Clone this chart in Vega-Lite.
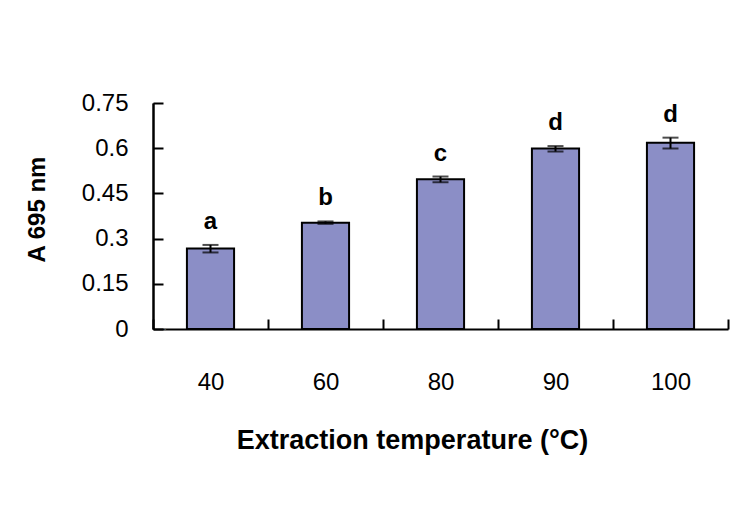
{
  "$schema": "https://vega.github.io/schema/vega-lite/v6.json",
  "width": 575,
  "height": 226,
  "autosize": {"type": "none"},
  "padding": {"left": 153, "top": 103, "right": 18, "bottom": 193},
  "background": "white",
  "config": {"view": {"stroke": null}, "font": "Liberation Sans"},
  "data": {
    "values": [
      {"temp": "40", "mean": 0.267, "lo": 0.254, "hi": 0.279, "group": "a"},
      {"temp": "60", "mean": 0.353, "lo": 0.349, "hi": 0.357, "group": "b"},
      {"temp": "80", "mean": 0.497, "lo": 0.487, "hi": 0.506, "group": "c"},
      {"temp": "90", "mean": 0.599, "lo": 0.589, "hi": 0.607, "group": "d"},
      {"temp": "100", "mean": 0.618, "lo": 0.599, "hi": 0.635, "group": "d"}
    ]
  },
  "resolve": {"axis": {"x": "independent", "y": "independent"}},
  "layer": [
    {
      "mark": {"type": "bar", "fill": "#8B8EC6", "stroke": "black", "strokeWidth": 2, "width": {"band": 0.41}},
      "encoding": {
        "x": {
          "field": "temp",
          "type": "ordinal",
          "sort": null,
          "scale": {"paddingInner": 0, "paddingOuter": 0},
          "axis": {
            "orient": "bottom",
            "labelAngle": 0,
            "ticks": false,
            "grid": true,
            "tickBand": "extent",
            "gridColor": "black",
            "gridWidth": 2,
            "gridDash": [0, 216, 10, 2000],
            "gridOpacity": 1,
            "domainColor": "black",
            "domainWidth": 2,
            "labelPadding": 41,
            "labelFontSize": 24,
            "labelColor": "black",
            "title": "Extraction temperature (°C)",
            "titleFontSize": 27,
            "titleFontWeight": "bold",
            "titleColor": "black",
            "titleX": 259,
            "titleY": 119,
            "titleBaseline": "alphabetic",
            "titleAlign": "center"
          }
        },
        "y": {
          "field": "mean",
          "type": "quantitative",
          "scale": {"domain": [0, 0.75], "nice": false},
          "axis": {
            "orient": "left",
            "values": [0, 0.15, 0.3, 0.45, 0.6, 0.75],
            "format": ".2~f",
            "tickSize": 0,
            "grid": false,
            "domainColor": "black",
            "domainWidth": 2,
            "labelPadding": 25,
            "labelFontSize": 24,
            "labelColor": "black",
            "title": "A 695 nm",
            "titleFontSize": 24,
            "titleFontWeight": "bold",
            "titleColor": "black",
            "titleX": -116,
            "titleY": 106,
            "titleBaseline": "middle",
            "titleAlign": "center",
            "titleAngle": 270
          }
        }
      }
    },
    {
      "mark": {
        "type": "errorbar",
        "ticks": {"size": 16, "thickness": 2, "color": "black"},
        "rule": {"strokeWidth": 2, "color": "black"}
      },
      "encoding": {
        "x": {"field": "temp", "type": "ordinal", "sort": null, "axis": null},
        "y": {"field": "lo", "type": "quantitative", "axis": null},
        "y2": {"field": "hi"}
      }
    },
    {
      "mark": {"type": "text", "fontSize": 24, "fontWeight": "bold", "baseline": "alphabetic", "dy": -16, "color": "black"},
      "encoding": {
        "x": {"field": "temp", "type": "ordinal", "sort": null, "axis": null},
        "y": {
          "field": "hi",
          "type": "quantitative",
          "axis": {
            "orient": "right",
            "offset": -575,
            "values": [0, 0.15, 0.3, 0.45, 0.6, 0.75],
            "grid": false,
            "tickSize": 10,
            "tickWidth": 2,
            "tickColor": "black",
            "domain": true,
            "domainColor": "black",
            "domainWidth": 2,
            "labels": true,
            "labelFontSize": 1,
            "labelColor": "white",
            "labelPadding": 1,
            "title": null
          }
        },
        "text": {"field": "group"}
      }
    }
  ]
}
